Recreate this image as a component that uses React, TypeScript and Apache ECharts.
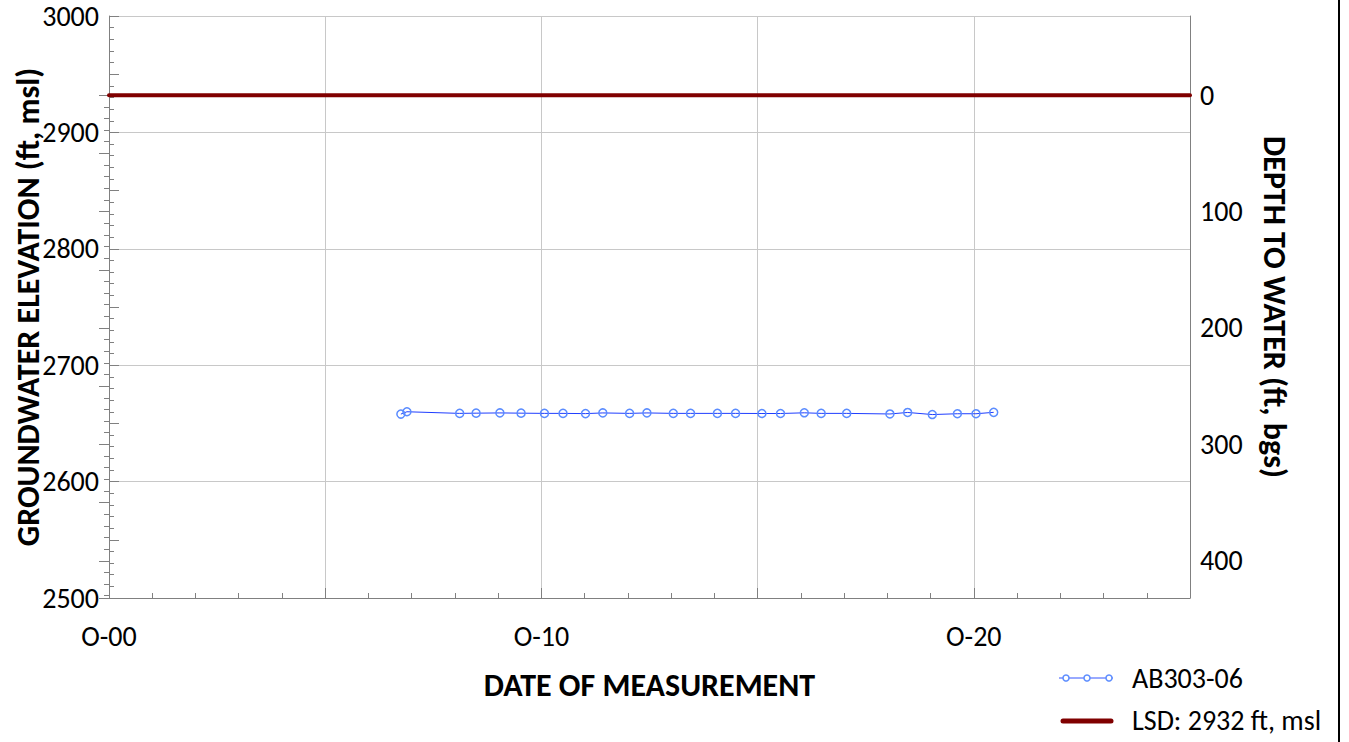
import React, { useEffect, useRef } from "react";
import * as echarts from "echarts";

// Years after 2000 (x) and groundwater elevation in ft msl (y)
const measurementYears = [
  6.75, 6.89, 8.11, 8.49, 9.04, 9.53, 10.07, 10.5, 11.02, 11.42, 12.04, 12.44, 13.05, 13.45,
  14.07, 14.49, 15.1, 15.53, 16.08, 16.47, 17.06, 18.06, 18.47, 19.04, 19.62, 20.05, 20.46,
];
const elevations = [
  2658.0, 2660.0, 2658.6, 2658.8, 2659.0, 2658.8, 2658.6, 2658.6, 2658.4, 2659.0, 2658.6, 2659.0,
  2658.6, 2658.6, 2658.6, 2658.6, 2658.5, 2658.5, 2659.1, 2658.6, 2658.6, 2658.1, 2659.4, 2657.6,
  2658.3, 2658.3, 2659.5,
];
const lsdElevation = 2932;
const lsdYears = [0, 25];
const seriesName = "AB303-06";
const lsdName = "LSD: 2932 ft, msl";
const xLabelPrefix = "O-";

const FONT = "Carlito, 'Open Sans', sans-serif";

export default function App() {
  const ref = useRef<HTMLDivElement>(null);
  useEffect(() => {
    document.body.style.margin = "0";
    const chart = echarts.init(ref.current!, null, { renderer: "svg" });
    const gridLeft = 109;
    const gridRight = 159;
    const gridBottom = 144;
    const plotBottomY = 742 - gridBottom;
    const pxPerFt = (plotBottomY - 16) / 500;
    const lsdTop = plotBottomY - (lsdElevation - 2500) * pxPerFt;
    const axisColor = "#808080";
    const gridColor = "#c8c8c8";
    const labelStyle = { color: "#000", fontSize: 28, fontFamily: FONT };
    const nameStyle = { color: "#000", fontSize: 32, fontFamily: FONT, fontWeight: "bold" as const };

    chart.setOption({
      animation: false,
      grid: [
        { left: gridLeft, right: gridRight, top: 16, bottom: gridBottom, containLabel: false, outerBoundsMode: "none" },
        { left: gridLeft, right: gridRight, top: lsdTop, bottom: gridBottom, containLabel: false, outerBoundsMode: "none" },
      ],
      xAxis: [
        {
          type: "value",
          gridIndex: 0,
          min: 0,
          max: 25,
          interval: 5,
          name: "DATE OF MEASUREMENT",
          nameLocation: "middle",
          nameGap: 71,
          nameMoveOverlap: false,
          nameTextStyle: nameStyle,
          axisLine: { show: true, lineStyle: { color: axisColor, width: 1 } },
          axisTick: { show: true, inside: true, length: 10, lineStyle: { color: axisColor } },
          minorTick: { show: true, splitNumber: 5, length: 5, lineStyle: { color: axisColor } },
          splitLine: { show: true, lineStyle: { color: gridColor, width: 1 } },
          axisLabel: {
            ...labelStyle,
            margin: 24,
            formatter: (v: number) =>
              v % 10 === 0 ? xLabelPrefix + String(Math.round(v)).padStart(2, "0") : "",
          },
        },
        { type: "value", gridIndex: 1, min: 0, max: 25, show: false },
      ],
      yAxis: [
        {
          type: "value",
          gridIndex: 0,
          position: "left",
          min: 2500,
          max: 3000,
          interval: 50,
          name: "GROUNDWATER ELEVATION (ft, msl)",
          nameLocation: "middle",
          nameGap: 65,
          nameMoveOverlap: false,
          nameTextStyle: nameStyle,
          axisLine: { show: true, lineStyle: { color: axisColor, width: 1 } },
          axisTick: { show: true, inside: true, length: 10, lineStyle: { color: axisColor } },
          minorTick: { show: true, splitNumber: 5, length: 5, lineStyle: { color: axisColor } },
          splitLine: { show: false },
          axisLabel: {
            ...labelStyle,
            margin: 10,
            formatter: (v: number) => (v % 100 === 0 ? String(v) : ""),
          },
        },
        {
          type: "value",
          gridIndex: 0,
          position: "left",
          min: 2500,
          max: 3000,
          interval: 100,
          axisLine: { show: false },
          axisTick: { show: false },
          axisLabel: { show: false },
          splitLine: { show: true, lineStyle: { color: gridColor, width: 1 } },
        },
        {
          type: "value",
          gridIndex: 0,
          position: "right",
          min: 2500,
          max: 3000,
          name: "DEPTH TO WATER (ft, bgs)",
          nameLocation: "middle",
          nameGap: 68,
          nameMoveOverlap: false,
          nameRotate: -90,
          nameTextStyle: nameStyle,
          axisLine: { show: true, lineStyle: { color: axisColor, width: 1 } },
          axisTick: { show: false },
          axisLabel: { show: false },
          splitLine: { show: false },
        },
        {
          type: "value",
          gridIndex: 1,
          position: "right",
          inverse: true,
          min: 0,
          max: lsdElevation - 2500,
          interval: 50,
          axisLine: { show: false },
          axisTick: { show: true, inside: true, length: 10, lineStyle: { color: axisColor } },
          minorTick: { show: true, splitNumber: 5, length: 5, lineStyle: { color: axisColor } },
          splitLine: { show: false },
          axisLabel: {
            ...labelStyle,
            margin: 10,
            formatter: (v: number) => (v % 100 === 0 ? String(v) : ""),
          },
        },
      ],
      series: [
        {
          name: lsdName,
          type: "line",
          xAxisIndex: 0,
          yAxisIndex: 0,
          data: lsdYears.map((x) => [x, lsdElevation]),
          symbol: "none",
          lineStyle: { color: "#800000", width: 4, cap: "round" },
          z: 3,
        },
        {
          name: seriesName,
          type: "line",
          xAxisIndex: 0,
          yAxisIndex: 0,
          data: measurementYears.map((x, i) => [x, elevations[i]]),
          symbol: "circle",
          symbolSize: 8,
          lineStyle: { color: "#1f3dff", width: 1 },
          itemStyle: { color: "rgba(0,0,0,0)", borderColor: "#5b8cff", borderWidth: 1.5 },
          z: 4,
        },
      ],
      graphic: [
        { type: "line", shape: { x1: 1339, y1: 0, x2: 1339, y2: 742 }, style: { stroke: "#000", lineWidth: 2 } },
        { type: "line", shape: { x1: 1059, y1: 678, x2: 1113, y2: 678 }, style: { stroke: "#3355ff", lineWidth: 1 } },
        { type: "circle", shape: { cx: 1066, cy: 678, r: 3 }, style: { stroke: "#5b8cff", fill: "#fff", lineWidth: 1.5 } },
        { type: "circle", shape: { cx: 1087, cy: 678, r: 3 }, style: { stroke: "#5b8cff", fill: "#fff", lineWidth: 1.5 } },
        { type: "circle", shape: { cx: 1109, cy: 678, r: 3 }, style: { stroke: "#5b8cff", fill: "#fff", lineWidth: 1.5 } },
        {
          type: "text",
          x: 1132,
          y: 678,
          style: { text: seriesName, fill: "#000", font: `28px ${FONT}`, verticalAlign: "middle" },
        },
        { type: "line", shape: { x1: 1063, y1: 721, x2: 1111, y2: 721 }, style: { stroke: "#800000", lineWidth: 5, lineCap: "round" } },
        {
          type: "text",
          x: 1132,
          y: 720,
          style: { text: lsdName, fill: "#000", font: `28px ${FONT}`, verticalAlign: "middle" },
        },
      ],
    });
    return () => chart.dispose();
  }, []);
  return <div ref={ref} style={{ width: 1349, height: 742 }} />;
}
